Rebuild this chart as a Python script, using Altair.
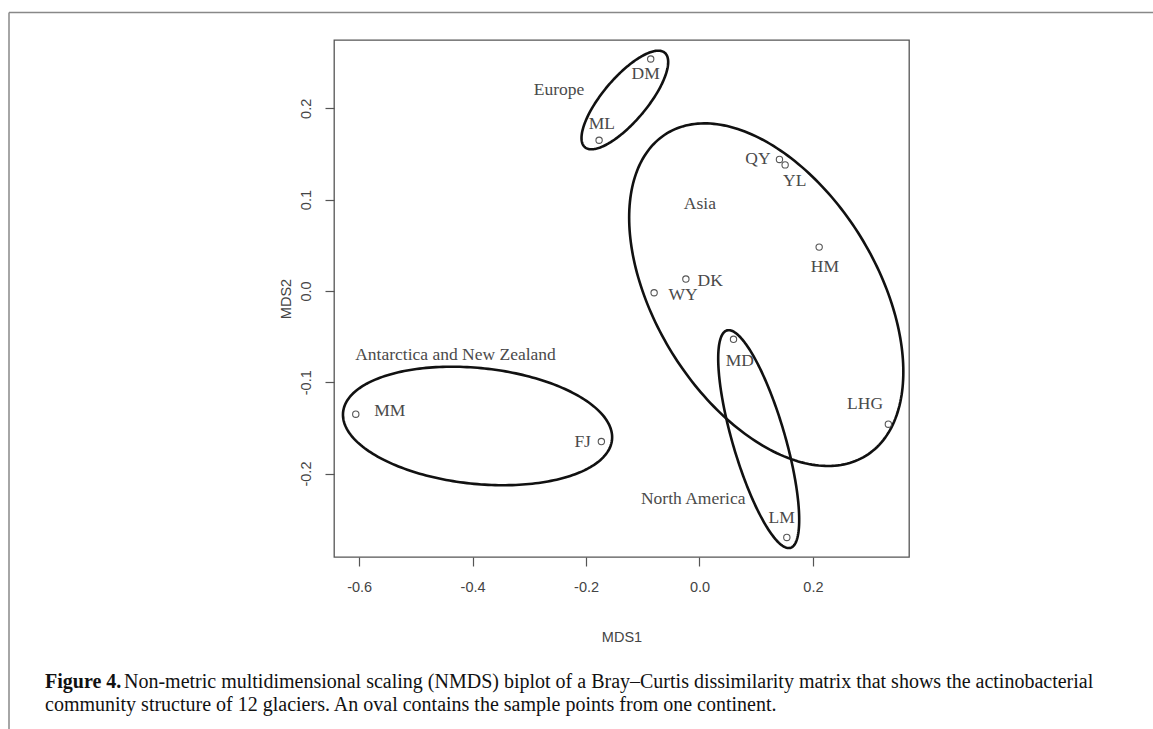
import numpy as np
import pandas as pd
import altair as alt

# ---- data ----
sites = ["DM", "ML", "QY", "YL", "HM", "DK", "WY", "MD", "LHG", "FJ", "MM", "LM"]
mds1 = [-0.086, -0.177, 0.141, 0.151, 0.211, -0.024, -0.080, 0.060, 0.333, -0.173, -0.606, 0.154]
mds2 = [0.254, 0.165, 0.144, 0.138, 0.048, 0.013, -0.002, -0.053, -0.146, -0.165, -0.135, -0.270]
# label anchor coordinates (data units, as with R's text())
lab_x = [-0.095, -0.172, 0.103, 0.168, 0.221, 0.019, -0.029, 0.071, 0.292, -0.206, -0.546, 0.145]
lab_y = [0.238, 0.183, 0.144, 0.120, 0.026, 0.011, -0.005, -0.077, -0.124, -0.165, -0.131, -0.249]

regions = ["Europe", "Asia", "North America", "Antarctica and New Zealand"]
reg_x = [-0.2475, 0.0007, -0.0111, -0.4302]
reg_y = [0.2201, 0.0948, -0.2274, -0.0704]
# ellipse parameters: centre, spreads and correlation
ell_cx = [-0.1316, 0.1177, 0.1044, -0.3913]
ell_cy = [0.2091, -0.0041, -0.1623, -0.1479]
ell_sx = [0.0764, 0.2417, 0.0714, 0.2373]
ell_sy = [0.0540, 0.1876, 0.1193, 0.0649]
ell_r = [0.77, -0.45, -0.74, -0.19]

x_ticks = [-0.6, -0.4, -0.2, 0.0, 0.2]
y_ticks = [-0.2, -0.1, 0.0, 0.1, 0.2]
x_dom = [-0.6444, 0.3694]
y_dom = [-0.2914, 0.2748]

caption_bold = "Figure 4."
caption_1 = ("Non-metric multidimensional scaling (NMDS) biplot of a Bray\u2013Curtis dissimilarity "
             "matrix that shows the actinobacterial")
caption_2 = ("community structure of 12 glaciers. An oval contains the sample points from one continent.")

# ---- build tables ----
pts = pd.DataFrame({"site": sites, "x": mds1, "y": mds2, "lx": lab_x, "ly": lab_y})
regs = pd.DataFrame({"region": regions, "x": reg_x, "y": reg_y})

rows = []
t = np.linspace(0, 2 * np.pi, 241)
for i, reg in enumerate(regions):
    r = ell_r[i]
    ex = ell_cx[i] + ell_sx[i] * np.cos(t)
    ey = ell_cy[i] + ell_sy[i] * (r * np.cos(t) + np.sqrt(1 - r * r) * np.sin(t))
    for k in range(len(t)):
        rows.append({"region": reg, "k": k, "x": ex[k], "y": ey[k]})
ell = pd.DataFrame(rows)

W, H = 575, 517
PL, PT = 334, 40

xs = alt.Scale(domain=x_dom, nice=False, zero=False)
ys = alt.Scale(domain=y_dom, nice=False, zero=False)
minus_fix = "replace(format(datum.value, '.1f'), '\u2212', '-')"

x_axis = alt.Axis(values=x_ticks, labelExpr=minus_fix, title="MDS1", grid=False, domain=False,
                  tickSize=9, tickColor="#555", tickWidth=1.2, labelPadding=14,
                  labelFont="Liberation Sans", labelFontSize=14.5, labelColor="#444",
                  titleFont="Liberation Sans", titleFontSize=14.5, titleFontWeight="normal",
                  titleColor="#444", titlePadding=37)
y_axis = alt.Axis(values=y_ticks, labelExpr=minus_fix, title="MDS2", grid=False, domain=False,
                  tickSize=9, tickColor="#555", tickWidth=1.2, labelPadding=12, labelAngle=270,
                  labelAlign="center", labelBaseline="bottom",
                  labelFont="Liberation Sans", labelFontSize=14.5, labelColor="#444",
                  titleFont="Liberation Sans", titleFontSize=14.5, titleFontWeight="normal",
                  titleColor="#444", titlePadding=5)

ellipses = alt.Chart(ell).mark_line(color="#111", strokeWidth=2.6, clip=True).encode(
    x=alt.X("x:Q", scale=xs, axis=x_axis),
    y=alt.Y("y:Q", scale=ys, axis=y_axis),
    detail="region:N",
    order="k:Q",
)

points = alt.Chart(pts).mark_point(shape="circle", filled=False, size=40, color="#555",
                                    strokeWidth=1.1, opacity=1).encode(
    x=alt.X("x:Q", scale=xs), y=alt.Y("y:Q", scale=ys))

labels = alt.Chart(pts).mark_text(font="Liberation Serif", fontSize=17.5, color="#4a4a4a",
                                   align="center", baseline="middle").encode(
    x=alt.X("lx:Q", scale=xs), y=alt.Y("ly:Q", scale=ys), text="site:N")

reg_labels = alt.Chart(regs).mark_text(font="Liberation Serif", fontSize=17.5, color="#4a4a4a",
                                        align="center", baseline="middle").encode(
    x=alt.X("x:Q", scale=xs), y=alt.Y("y:Q", scale=ys), text="region:N")

one = pd.DataFrame({"a": [0]})
frame_top = alt.Chart(one).mark_rule(color="#888", strokeWidth=1.5).encode(
    x=alt.value(9 - PL), x2=alt.value(1153 - PL), y=alt.value(12.5 - PT))
frame_left = alt.Chart(one).mark_rule(color="#888", strokeWidth=1.5).encode(
    x=alt.value(9 - PL), y=alt.value(12.5 - PT), y2=alt.value(729 - PT))

cap_b = alt.Chart(one).mark_text(text=caption_bold, font="Liberation Serif", fontSize=20,
                                 fontWeight="bold", color="#111", align="left",
                                 baseline="middle").encode(
    x=alt.value(45 - PL), y=alt.value(682 - PT))
cap_1 = alt.Chart(one).mark_text(text=caption_1, font="Liberation Serif", fontSize=20,
                                 color="#111", align="left", baseline="middle").encode(
    x=alt.value(124 - PL), y=alt.value(682 - PT))
cap_2 = alt.Chart(one).mark_text(text=caption_2, font="Liberation Serif", fontSize=20,
                                 color="#111", align="left", baseline="middle").encode(
    x=alt.value(45 - PL), y=alt.value(705 - PT))

chart = alt.layer(ellipses, points, labels, reg_labels, frame_top, frame_left,
                  cap_b, cap_1, cap_2).properties(
    width=W, height=H,
    autosize=alt.AutoSizeParams(type="none"),
    padding={"left": PL, "top": PT, "right": 1153 - PL - W, "bottom": 729 - PT - H},
    background="white",
).configure_view(stroke="#555", strokeWidth=1.3)

chart.save("out.html", embed_options={"renderer": "svg", "actions": False})
